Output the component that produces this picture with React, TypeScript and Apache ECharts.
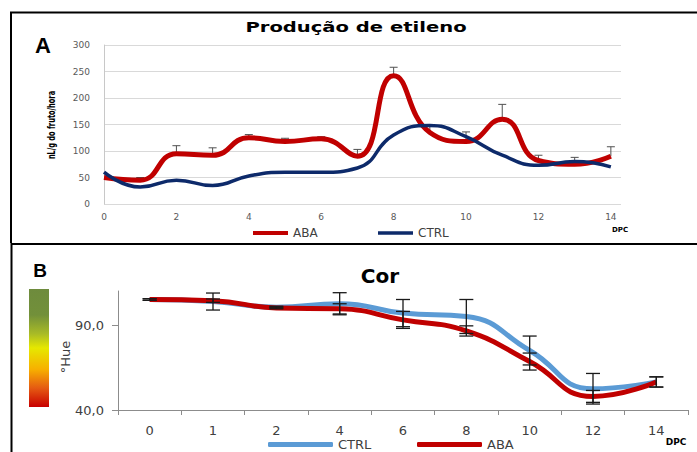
import React, { useEffect, useRef } from 'react';
import * as echarts from 'echarts';

// ---------- Panel A: Produção de etileno ----------
const ETH_DAYS = [0, 1, 2, 3, 4, 5, 6, 7, 8, 9, 10, 11, 12, 13, 14];
const ETH_ABA = [50, 45, 95, 92, 125, 118, 123, 90, 242, 135, 118, 160, 82, 75, 90];
const ETH_ABA_ERR = [0, 5, 15, 14, 6, 6, 4, 13, 16, 13, 18, 28, 10, 13, 18];
const ETH_CTRL = [60, 32, 45, 35, 53, 60, 60, 68, 130, 148, 127, 92, 73, 80, 70];
const ETH_X_LABELS = [0, 2, 4, 6, 8, 10, 12, 14];

// ---------- Panel B: Cor ----------
const HUE_DAYS = ['0', '1', '2', '4', '6', '8', '10', '12', '14'];
const HUE_CTRL = [105, 103.8, 100.5, 102.5, 97, 95, 75, 52.5, 56.5];
const HUE_CTRL_ERR = [0.5, 5, 0.5, 6.5, 8, 10, 8.5, 9, 3];
const HUE_ABA = [105, 104.3, 100, 99.5, 93, 86.5, 68.5, 48, 56.5];
const HUE_ABA_ERR = [0.5, 1, 0.5, 3, 5, 3, 5, 3.5, 3];
const HUE_Y_LABELS = [40, 90];

const SANS = '"DejaVu Sans", Verdana, sans-serif';
const ARIAL = '"Liberation Sans", Arial, sans-serif';
const NARROW = '"Liberation Sans Narrow", "DejaVu Sans Condensed", sans-serif';

function upperErrRender(color: string, hw: number) {
  return (params: any, api: any) => {
    const x = api.value(0);
    const y = api.value(1);
    const e = api.value(2);
    if (!(e > 0)) return { type: 'group', children: [] };
    const p0 = api.coord([x, y]);
    const p1 = api.coord([x, y + e]);
    const st = { stroke: color, lineWidth: 1 };
    return {
      type: 'group',
      children: [
        { type: 'line', shape: { x1: p0[0], y1: p0[1], x2: p1[0], y2: p1[1] }, style: st },
        { type: 'line', shape: { x1: p1[0] - hw, y1: p1[1], x2: p1[0] + hw, y2: p1[1] }, style: st },
      ],
    };
  };
}

function fullErrRender(color: string, hw: number) {
  return (params: any, api: any) => {
    const x = api.value(0);
    const y = api.value(1);
    const e = api.value(2);
    const pt = api.coord([x, y + e]);
    const pb = api.coord([x, y - e]);
    const st = { stroke: color, lineWidth: 1.3 };
    return {
      type: 'group',
      children: [
        { type: 'line', shape: { x1: pt[0], y1: pt[1], x2: pb[0], y2: pb[1] }, style: st },
        { type: 'line', shape: { x1: pt[0] - hw, y1: pt[1], x2: pt[0] + hw, y2: pt[1] }, style: st },
        { type: 'line', shape: { x1: pb[0] - hw, y1: pb[1], x2: pb[0] + hw, y2: pb[1] }, style: st },
      ],
    };
  };
}

function buildOptionA(): any {
  return {
    animation: false,
    grid: { left: 104, top: 45, width: 517, height: 159, containLabel: false },
    xAxis: {
      type: 'value',
      min: 0,
      max: 14.28,
      interval: 2,
      axisLine: { show: false },
      axisTick: { show: false },
      splitLine: { show: false },
      axisLabel: {
        customValues: ETH_X_LABELS,
        formatter: (v: number) => (ETH_X_LABELS.indexOf(v) >= 0 ? String(v) : ''),
        fontSize: 9,
        fontFamily: SANS,
        color: '#595959',
        margin: 8,
      },
    },
    yAxis: {
      type: 'value',
      min: 0,
      max: 300,
      interval: 50,
      axisLine: { show: true, lineStyle: { color: '#c8c8c8', width: 1 } },
      axisTick: { show: false },
      splitLine: { show: true, lineStyle: { color: '#d9d9d9', width: 1 } },
      axisLabel: { fontSize: 9, fontFamily: SANS, color: '#595959', margin: 14 },
    },
    legend: [
      {
        data: ['ABA'],
        left: 248,
        top: 222,
        icon: 'rect',
        itemWidth: 35,
        itemHeight: 4,
        textStyle: { fontSize: 12, fontFamily: SANS, color: '#404040' },
        selectedMode: false,
      },
      {
        data: ['CTRL'],
        left: 373,
        top: 222,
        icon: 'rect',
        itemWidth: 35,
        itemHeight: 3.5,
        textStyle: { fontSize: 12, fontFamily: SANS, color: '#404040' },
        selectedMode: false,
      },
    ],
    series: [
      {
        type: 'custom',
        name: 'errA',
        renderItem: upperErrRender('#505050', 4),
        data: ETH_DAYS.map((d, i) => [d, ETH_ABA[i], ETH_ABA_ERR[i]]),
        z: 1,
        silent: true,
      },
      {
        name: 'ABA',
        type: 'line',
        smooth: 0.5,
        symbol: 'none',
        data: ETH_DAYS.map((d, i) => [d, ETH_ABA[i]]),
        lineStyle: { width: 5, color: '#c00000' },
        itemStyle: { color: '#c00000' },
        z: 2,
      },
      {
        name: 'CTRL',
        type: 'line',
        smooth: 0.5,
        symbol: 'none',
        data: ETH_DAYS.map((d, i) => [d, ETH_CTRL[i]]),
        lineStyle: { width: 3.5, color: '#0d2a6a' },
        itemStyle: { color: '#0d2a6a' },
        z: 3,
      },
    ],
    graphic: [
      {
        type: 'polyline',
        shape: { points: [[11, 245], [11, 12.5], [700, 12.5]] },
        style: { stroke: '#000', lineWidth: 2, fill: null },
      },
      {
        type: 'text',
        x: 43,
        y: 45,
        style: { text: 'A', fontSize: 22, fontWeight: 'bold', fontFamily: ARIAL, fill: '#000', align: 'center', verticalAlign: 'middle' },
      },
      {
        type: 'text',
        x: 356,
        y: 27,
        scaleX: 1.35,
        style: { text: 'Produção de etileno', fontSize: 14.5, fontWeight: 'bold', fontFamily: SANS, fill: '#000', align: 'center', verticalAlign: 'middle' },
      },
      {
        type: 'text',
        x: 52,
        y: 125,
        rotation: Math.PI / 2,
        scaleX: 0.74,
        style: { text: 'nL/g do fruto/hora', fontSize: 10, fontWeight: 'bold', fontFamily: NARROW, fill: '#000', align: 'center', verticalAlign: 'middle' },
      },
      {
        type: 'text',
        x: 620,
        y: 230,
        style: { text: 'DPC', fontSize: 7, fontWeight: 'bold', fontFamily: SANS, fill: '#000', align: 'center', verticalAlign: 'middle' },
      },
    ],
  };
}

function buildOptionB(): any {
  const axisColor = '#8c8c8c';
  return {
    animation: false,
    grid: { left: 118, top: 48, width: 570, height: 119, containLabel: false },
    xAxis: {
      type: 'category',
      data: HUE_DAYS,
      boundaryGap: true,
      axisLine: { show: true, lineStyle: { color: axisColor, width: 1 } },
      axisTick: { show: true, length: 5, lineStyle: { color: axisColor } },
      splitLine: { show: false },
      axisLabel: { fontSize: 13, fontFamily: SANS, color: '#404040', margin: 14 },
    },
    yAxis: {
      type: 'value',
      min: 40,
      max: 110,
      interval: 50,
      axisLine: { show: true, lineStyle: { color: axisColor, width: 1 } },
      axisTick: { show: true, length: 6, lineStyle: { color: axisColor }, customValues: HUE_Y_LABELS },
      splitLine: { show: false },
      axisLabel: {
        customValues: HUE_Y_LABELS,
        formatter: (v: number) => (HUE_Y_LABELS.indexOf(v) >= 0 ? v.toFixed(1).replace('.', ',') : ''),
        fontSize: 13,
        fontFamily: SANS,
        color: '#404040',
        margin: 14,
      },
    },
    legend: [
      {
        data: ['CTRL'],
        left: 263,
        top: 190,
        icon: 'roundRect',
        itemWidth: 65,
        itemHeight: 5,
        textStyle: { fontSize: 13, fontFamily: SANS, color: '#404040' },
        selectedMode: false,
      },
      {
        data: ['ABA'],
        left: 412,
        top: 190,
        icon: 'roundRect',
        itemWidth: 65,
        itemHeight: 5,
        textStyle: { fontSize: 13, fontFamily: SANS, color: '#404040' },
        selectedMode: false,
      },
    ],
    series: [
      {
        name: 'CTRL',
        type: 'line',
        smooth: 0.5,
        symbol: 'none',
        data: HUE_CTRL,
        lineStyle: { width: 5, color: '#5b9bd5' },
        itemStyle: { color: '#5b9bd5' },
        z: 2,
      },
      {
        name: 'ABA',
        type: 'line',
        smooth: 0.5,
        symbol: 'none',
        data: HUE_ABA,
        lineStyle: { width: 5, color: '#c00000' },
        itemStyle: { color: '#c00000' },
        z: 3,
      },
      {
        type: 'custom',
        name: 'errCtrl',
        renderItem: fullErrRender('#1a1a1a', 7),
        data: HUE_DAYS.map((d, i) => [i, HUE_CTRL[i], HUE_CTRL_ERR[i]]),
        z: 4,
        silent: true,
      },
      {
        type: 'custom',
        name: 'errAba',
        renderItem: fullErrRender('#1a1a1a', 7),
        data: HUE_DAYS.map((d, i) => [i, HUE_ABA[i], HUE_ABA_ERR[i]]),
        z: 4,
        silent: true,
      },
    ],
    graphic: [
      {
        type: 'polyline',
        shape: { points: [[11.5, 220], [11.5, 1], [700, 1]] },
        style: { stroke: '#000', lineWidth: 2, fill: null },
      },
      {
        type: 'text',
        x: 40,
        y: 27,
        style: { text: 'B', fontSize: 19, fontWeight: 'bold', fontFamily: ARIAL, fill: '#000', align: 'center', verticalAlign: 'middle' },
      },
      {
        type: 'text',
        x: 380,
        y: 33,
        style: { text: 'Cor', fontSize: 20, fontWeight: 'bold', fontFamily: SANS, fill: '#000', align: 'center', verticalAlign: 'middle' },
      },
      {
        type: 'rect',
        shape: { x: 29, y: 46, width: 20, height: 118 },
        style: {
          fill: new echarts.graphic.LinearGradient(0, 0, 0, 1, [
            { offset: 0, color: '#6e8b3d' },
            { offset: 0.22, color: '#72903a' },
            { offset: 0.38, color: '#a9bb26' },
            { offset: 0.5, color: '#e6e800' },
            { offset: 0.68, color: '#f7b000' },
            { offset: 0.84, color: '#e55a12' },
            { offset: 1, color: '#c80000' },
          ]),
        },
      },
      {
        type: 'text',
        x: 65,
        y: 114,
        rotation: Math.PI / 2,
        style: { text: '°Hue', fontSize: 13, fontFamily: SANS, fill: '#404040', align: 'center', verticalAlign: 'middle' },
      },
      {
        type: 'text',
        x: 676,
        y: 199,
        style: { text: 'DPC', fontSize: 9, fontWeight: 'bold', fontFamily: SANS, fill: '#000', align: 'center', verticalAlign: 'middle' },
      },
    ],
  };
}

export default function App() {
  const refA = useRef<HTMLDivElement>(null);
  const refB = useRef<HTMLDivElement>(null);

  useEffect(() => {
    document.body.style.margin = '0';
    const a = echarts.init(refA.current!, null, { renderer: 'svg' });
    const b = echarts.init(refB.current!, null, { renderer: 'svg' });
    a.setOption(buildOptionA());
    b.setOption(buildOptionB());
    return () => {
      a.dispose();
      b.dispose();
    };
  }, []);

  return (
    <div style={{ position: 'relative', width: 697, height: 452, background: '#fff', overflow: 'hidden' }}>
      <div ref={refA} style={{ position: 'absolute', left: 0, top: 0, width: 697, height: 243 }} />
      <div ref={refB} style={{ position: 'absolute', left: 0, top: 243, width: 697, height: 209 }} />
    </div>
  );
}
